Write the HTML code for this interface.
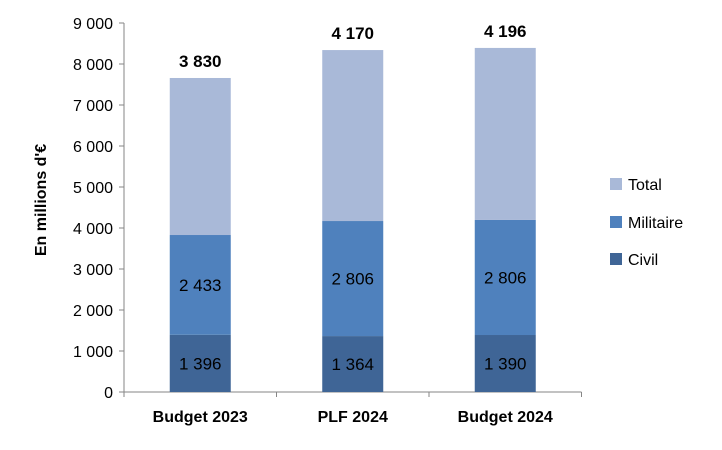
<!DOCTYPE html>
<html><head><meta charset="utf-8"><style>
body{margin:0;background:#fff;font-family:"Liberation Sans",sans-serif;}
svg text{font-family:"Liberation Sans",sans-serif;}
</style></head><body>
<svg id="chart" width="722" height="445">
<text transform="translate(46,200) rotate(-90)" text-anchor="middle" font-size="16" font-weight="bold" fill="#000">En millions d'€</text>
<g id="axes"></g><g id="bars"></g>
<g>
<rect x="610" y="178" width="12" height="12" fill="#A9B9D8"/>
<text x="628" y="190" font-size="16">Total</text>
<rect x="610" y="216" width="12" height="12" fill="#4F81BD"/>
<text x="628" y="228" font-size="16">Militaire</text>
<rect x="610" y="253" width="12" height="12" fill="#3F6596"/>
<text x="628" y="265" font-size="16">Civil</text>
</g>
</svg>
<script>
const categories=["Budget 2023","PLF 2024","Budget 2024"];
const civil=[1396,1364,1390];
const militaire=[2433,2806,2806];
const total=[3830,4170,4196];
const yTicks=[0,1000,2000,3000,4000,5000,6000,7000,8000,9000];
const NS="http://www.w3.org/2000/svg";
const x0=124,bandW=152.5,barW=61,y0=392,pxPer=41/1000;
function y(v){return y0-v*pxPer;}
function xc(i){return x0+bandW*(i+0.5);}
function fmt(v){return String(v).replace(/\B(?=(\d{3})+(?!\d))/g," ");}
function mk(tag,attrs,parent){const e=document.createElementNS(NS,tag);for(const k in attrs)e.setAttribute(k,attrs[k]);parent.appendChild(e);return e;}
const ax=document.getElementById('axes'),bg=document.getElementById('bars');
const yl=mk('line',{x1:x0,x2:x0,y1:y(9000),y2:y0,stroke:'#868686'},ax);


const xl=mk('line',{x1:x0,x2:x0+bandW*3,y1:y0,y2:y0,stroke:'#868686'},ax);


yTicks.forEach(t=>{
 mk('line',{x1:x0-5,x2:x0,y1:y(t),y2:y(t),stroke:'#868686'},ax);
 const tx=mk('text',{x:x0-11,y:y(t)+6,'text-anchor':'end','font-size':16},ax);
 tx.textContent=fmt(t);
 
 
});
for(let i=0;i<=3;i++) mk('line',{x1:x0+bandW*i,x2:x0+bandW*i,y1:y0,y2:y0+5,stroke:'#868686'},ax);
categories.forEach((c,i)=>{
 const cx=xc(i),bx=cx-barW/2;
 const segs=[[0,civil[i],'#3F6596','civil'],[civil[i],civil[i]+militaire[i],'#4F81BD','militaire'],[civil[i]+militaire[i],civil[i]+militaire[i]+total[i],'#A9B9D8','total']];
 segs.forEach(s=>{
  const r=mk('rect',{x:bx,y:y(s[1]),width:barW,height:y(s[0])-y(s[1]),fill:s[2]},bg);
  
  
 });
 const l1=mk('text',{x:cx,y:(y(0)+y(civil[i]))/2+6,'text-anchor':'middle','font-size':17},bg);
 l1.textContent=fmt(civil[i]);
 
 
 const l2=mk('text',{x:cx,y:(y(civil[i])+y(civil[i]+militaire[i]))/2+6,'text-anchor':'middle','font-size':17},bg);
 l2.textContent=fmt(militaire[i]);
 
 
 const l3=mk('text',{x:cx,y:y(civil[i]+militaire[i]+total[i])-11,'text-anchor':'middle','font-size':17,'font-weight':'bold'},bg);
 l3.textContent=fmt(total[i]);
 
 
 const cl=mk('text',{x:cx,y:y0+30,'text-anchor':'middle','font-size':16,'font-weight':'bold'},bg);
 cl.textContent=c;
 
 
});
</script>
</body></html>
